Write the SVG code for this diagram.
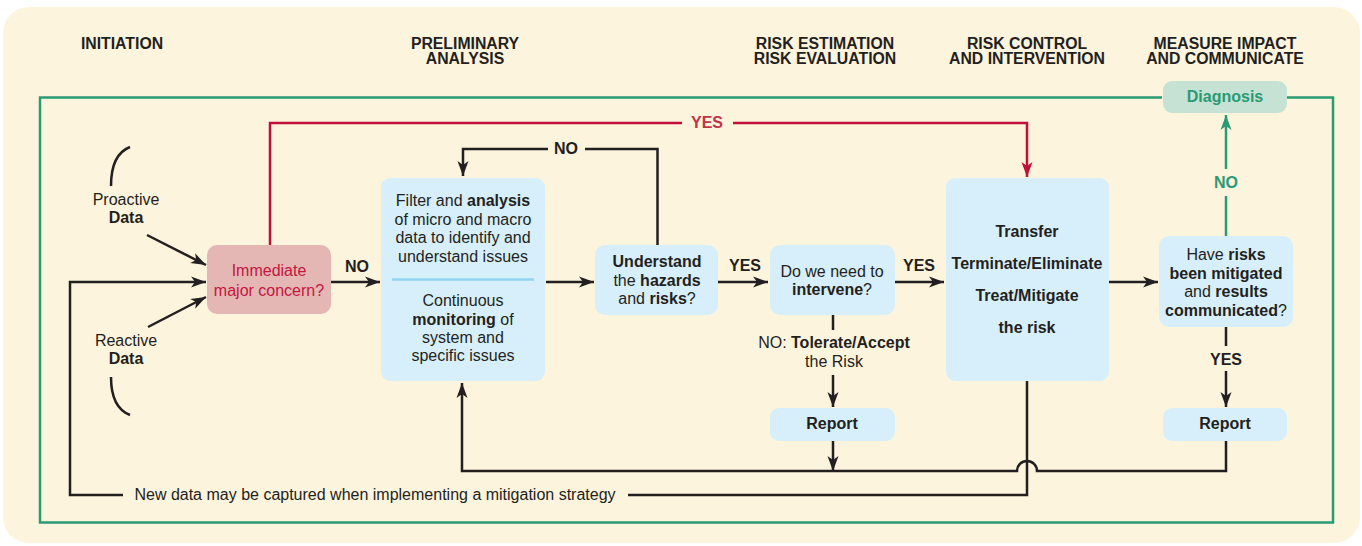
<svg xmlns="http://www.w3.org/2000/svg" width="1362" height="546" viewBox="0 0 1362 546">
<style>
text{font-family:"Liberation Sans",Arial,sans-serif;fill:#231f20;text-anchor:middle;font-size:16px}
.b{font-weight:bold}
.h{font-weight:bold;font-size:15.8px}
.box{fill:#d7effa}
.ln{fill:none;stroke:#231f20;stroke-width:2.5}
.red{fill:none;stroke:#c0103a;stroke-width:2.5}
.grn{fill:none;stroke:#2a9a72;stroke-width:2.5}
</style>
<defs>
<marker id="ak" markerUnits="userSpaceOnUse" markerWidth="16" markerHeight="12" viewBox="0 0 16 12" refX="15" refY="6" orient="auto"><path d="M0,0.5 L15,6 L0,11.5 L4,6 z" fill="#231f20"/></marker>
<marker id="ar" markerUnits="userSpaceOnUse" markerWidth="16" markerHeight="12" viewBox="0 0 16 12" refX="15" refY="6" orient="auto"><path d="M0,0.5 L15,6 L0,11.5 L4,6 z" fill="#c0103a"/></marker>
<marker id="ag" markerUnits="userSpaceOnUse" markerWidth="16" markerHeight="12" viewBox="0 0 16 12" refX="15" refY="6" orient="auto"><path d="M0,0.5 L15,6 L0,11.5 L4,6 z" fill="#2a9a72"/></marker>
</defs>
<rect x="3" y="7" width="1357" height="536" rx="26" fill="#fdf4dd"/>
<g id="headers">
<text class="h" x="122" y="49">INITIATION</text>
<text class="h" x="465" y="49">PRELIMINARY</text>
<text class="h" x="465" y="64">ANALYSIS</text>
<text class="h" x="825" y="49">RISK ESTIMATION</text>
<text class="h" x="825" y="64">RISK EVALUATION</text>
<text class="h" x="1027" y="49">RISK CONTROL</text>
<text class="h" x="1027" y="64">AND INTERVENTION</text>
<text class="h" x="1225" y="49">MEASURE IMPACT</text>
<text class="h" x="1225" y="64">AND COMMUNICATE</text>
</g>
<path id="frame" class="grn" d="M1162,97.5 H40 V522.5 H1333 V97.5 H1287"/>
<g id="connectors">
<path class="ln" d="M111,186 C111,166 117,152 130,147"/>
<path class="ln" d="M111,377 C111,397 117,410 130,415"/>
<path class="ln" d="M147,235 L206,265" marker-end="url(#ak)"/>
<path class="ln" d="M148,327 L206,297" marker-end="url(#ak)"/>
<path class="ln" d="M123,495 H70 V282 H206" marker-end="url(#ak)"/>
<path class="ln" d="M331,282 H380" marker-end="url(#ak)"/>
<text class="b" x="357" y="272">NO</text>
<path class="red" d="M270,245 V123 H682"/>
<path class="red" d="M733,123 H1027 V177" marker-end="url(#ar)"/>
<text class="b" x="707" y="128" style="fill:#c0344a">YES</text>
<path class="ln" d="M546,282 H594" marker-end="url(#ak)"/>
<path class="ln" d="M657.5,245 V149 H585"/>
<path class="ln" d="M548,149 H463 V176" marker-end="url(#ak)"/>
<text class="b" x="566" y="154">NO</text>
<path class="ln" d="M718,282 H768" marker-end="url(#ak)"/>
<text class="b" x="745" y="271">YES</text>
<path class="ln" d="M895,282 H944" marker-end="url(#ak)"/>
<text class="b" x="919" y="271">YES</text>
<path class="ln" d="M833,315 V330"/>
<text x="834" y="348">NO: <tspan class="b">Tolerate/Accept</tspan></text>
<text x="834" y="367">the Risk</text>
<path class="ln" d="M833,375 V407" marker-end="url(#ak)"/>
<path class="ln" d="M833,441 V471" marker-end="url(#ak)"/>
<path class="ln" d="M1109,282 H1158" marker-end="url(#ak)"/>
<path class="grn" d="M1226,236 V196"/>
<path class="grn" d="M1226,169 V115" marker-end="url(#ag)"/>
<text class="b" x="1226" y="188" style="fill:#2a9a72">NO</text>
<path class="ln" d="M1226,327 V346"/>
<text class="b" x="1226" y="365">YES</text>
<path class="ln" d="M1226,371 V407" marker-end="url(#ak)"/>
<path class="ln" d="M1226,441 V471 H1037 A10,10 0 0 0 1017,471 H462 V383" marker-end="url(#ak)"/>
<path class="ln" d="M1027,381 V495 H628"/>
<text x="375" y="500">New data may be captured when implementing a mitigation strategy</text>
</g>
<g id="proactive">
<text x="126" y="205">Proactive</text>
<text class="b" x="126" y="223">Data</text>
</g>
<g id="reactive">
<text x="126" y="346">Reactive</text>
<text class="b" x="126" y="364">Data</text>
</g>
<g id="immediate">
<rect x="207" y="245" width="124" height="69" rx="10" fill="#e5b7b4"/>
<text x="269" y="276" style="fill:#c4153f">Immediate</text>
<text x="269" y="296" style="fill:#c4153f">major concern?</text>
</g>
<g id="filter">
<rect class="box" x="381" y="178" width="164" height="203" rx="9"/>
<line x1="392" y1="279.5" x2="534" y2="279.5" stroke="#8fd4f2" stroke-width="2.5"/>
<text x="463" y="206">Filter and <tspan class="b">analysis</tspan></text>
<text x="463" y="225">of micro and macro</text>
<text x="463" y="243">data to identify and</text>
<text x="463" y="262">understand issues</text>
<text x="463" y="306">Continuous</text>
<text x="463" y="325"><tspan class="b">monitoring</tspan> of</text>
<text x="463" y="343">system and</text>
<text x="463" y="361">specific issues</text>
</g>
<g id="understand">
<rect class="box" x="595" y="245" width="123" height="70" rx="10"/>
<text x="657" y="267" class="b">Understand</text>
<text x="657" y="286">the <tspan class="b">hazards</tspan></text>
<text x="657" y="304">and <tspan class="b">risks</tspan>?</text>
</g>
<g id="intervene">
<rect class="box" x="770" y="245" width="125" height="70" rx="10"/>
<text x="832" y="277">Do we need to</text>
<text x="832" y="295"><tspan class="b">intervene</tspan>?</text>
</g>
<g id="control">
<rect class="box" x="946" y="178" width="163" height="203" rx="9"/>
<text class="b" x="1027" y="237">Transfer</text>
<text class="b" x="1027" y="269">Terminate/Eliminate</text>
<text class="b" x="1027" y="301">Treat/Mitigate</text>
<text class="b" x="1027" y="333">the risk</text>
</g>
<g id="mitigated">
<rect class="box" x="1159" y="236" width="134" height="91" rx="10"/>
<text x="1226" y="260">Have <tspan class="b">risks</tspan></text>
<text x="1226" y="279" class="b">been mitigated</text>
<text x="1226" y="297">and <tspan class="b">results</tspan></text>
<text x="1226" y="316"><tspan class="b">communicated</tspan>?</text>
</g>
<g id="report1">
<rect class="box" x="770" y="408" width="125" height="33" rx="9"/>
<text class="b" x="832" y="429">Report</text>
</g>
<g id="report2">
<rect class="box" x="1163" y="408" width="124" height="33" rx="9"/>
<text class="b" x="1225" y="429">Report</text>
</g>
<g id="diagnosis">
<rect x="1163" y="81" width="124" height="32" rx="9" fill="#c5e2d5"/>
<text class="b" x="1225" y="102" style="fill:#2a9a72">Diagnosis</text>
</g>
</svg>
